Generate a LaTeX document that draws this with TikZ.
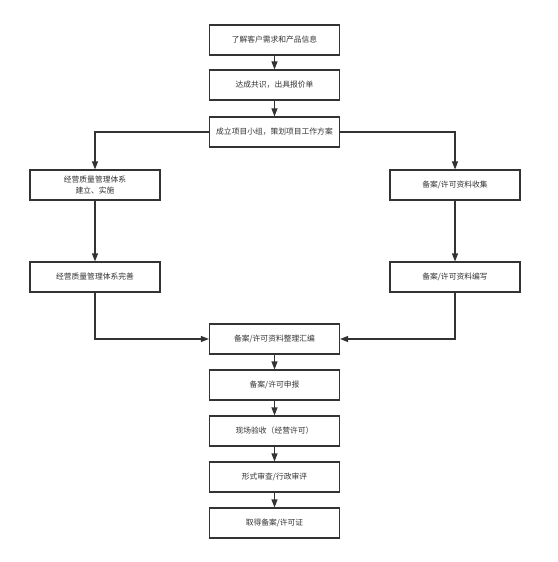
\documentclass[tikz,border=0pt]{standalone}
\usepackage{fontspec}
\setmainfont{Noto Sans CJK SC}
\usetikzlibrary{arrows.meta}
\begin{document}
\begin{tikzpicture}[x=1bp,y=-1bp,
  box/.style={draw=black!80, line width=1.1bp, fill=white, minimum width=130bp, minimum height=30bp, inner sep=1bp, align=center, font=\fontsize{7.8}{10.5}\selectfont, text=black!80},
  arr/.style={draw=black!80, line width=1.1bp, -{Triangle[length=8bp,width=6bp]}}]
\useasboundingbox (0,0) rectangle (558,562);
\node[box] (a) at (274.5,40) {了解客户需求和产品信息};
\node[box] (b) at (274.5,85) {达成共识，出具报价单};
\node[box] (c) at (274.5,132) {成立项目小组，策划项目工作方案};
\node[box] (l1) at (95,185) {经营质量管理体系\\建立、实施};
\node[box] (l2) at (95,277) {经营质量管理体系完善};
\node[box] (r1) at (455,185) {备案/许可资料收集};
\node[box] (r2) at (455,277) {备案/许可资料编写};
\node[box] (d) at (274.5,339) {备案/许可资料整理汇编};
\node[box] (e) at (274.5,385) {备案/许可申报};
\node[box] (f) at (274.5,431) {现场验收（经营许可）};
\node[box] (g) at (274.5,477) {形式审查/行政审评};
\node[box] (h) at (274.5,523) {取得备案/许可证};
\draw[arr] (a) -- (b);
\draw[arr] (b) -- (c);
\draw[arr] (c.west) -| (l1.north);
\draw[arr] (c.east) -| (r1.north);
\draw[arr] (l1) -- (l2);
\draw[arr] (r1) -- (r2);
\draw[arr] (l2.south) |- (d.west);
\draw[arr] (r2.south) |- (d.east);
\draw[arr] (d) -- (e);
\draw[arr] (e) -- (f);
\draw[arr] (f) -- (g);
\draw[arr] (g) -- (h);
\end{tikzpicture}
\end{document}
